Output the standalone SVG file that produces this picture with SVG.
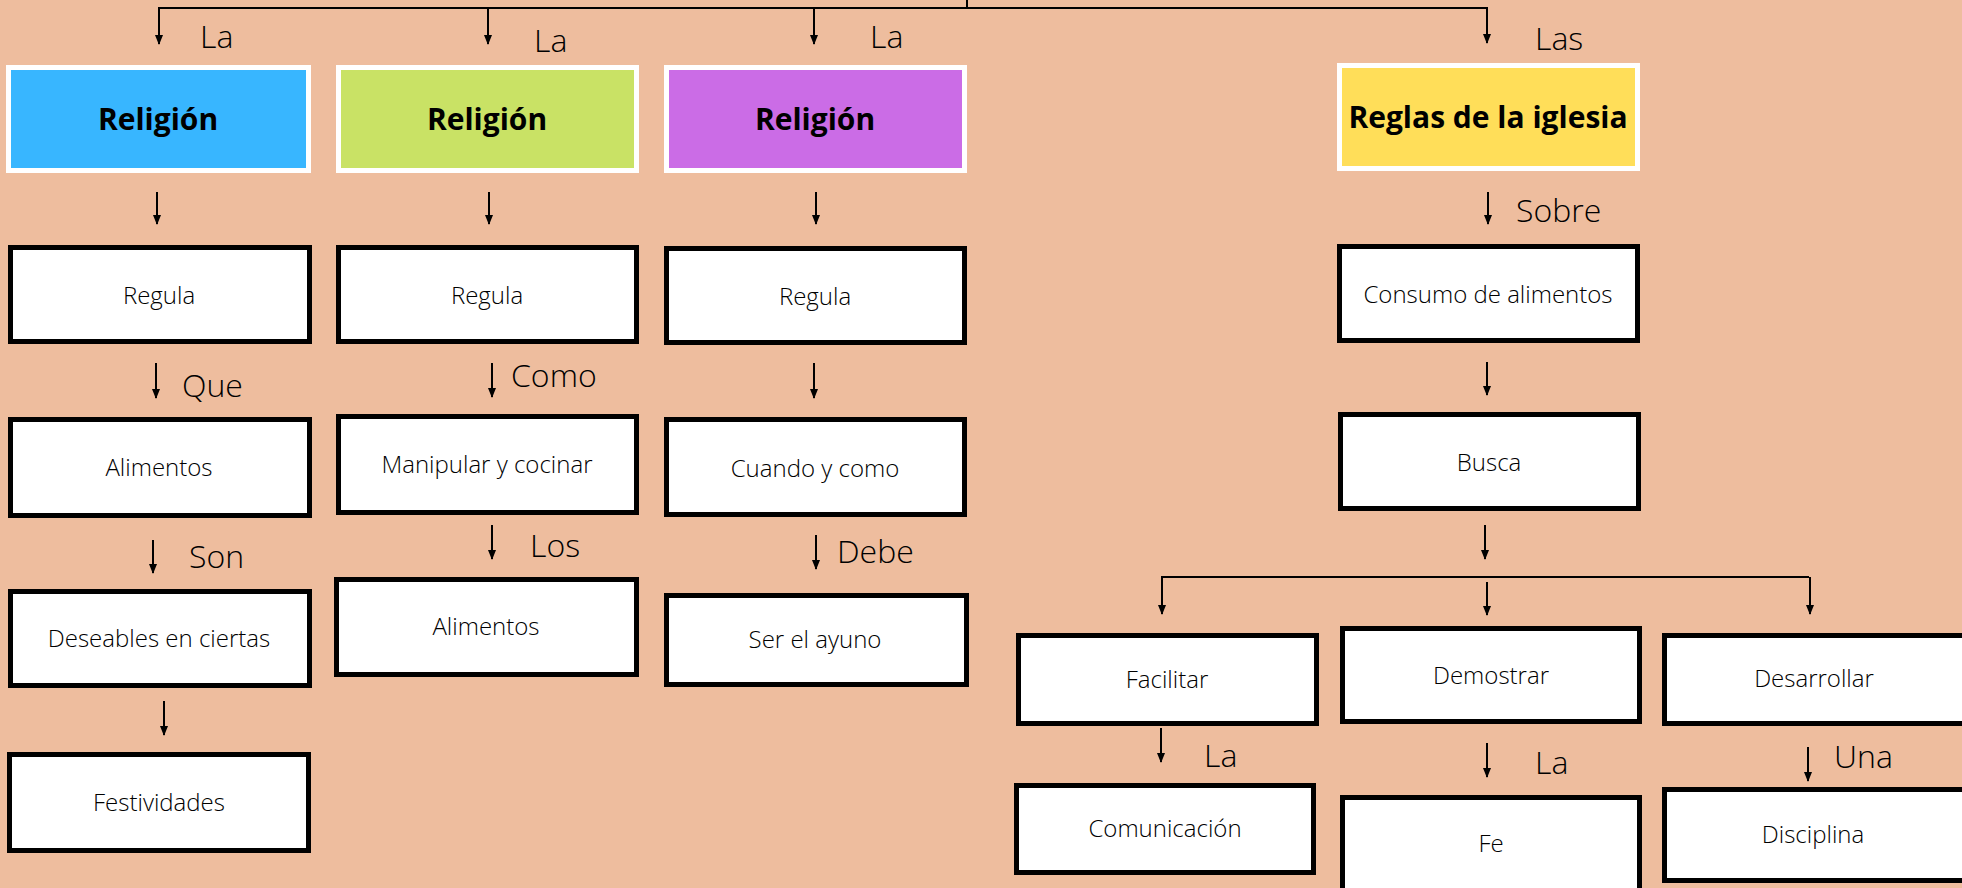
<svg xmlns="http://www.w3.org/2000/svg" width="1962" height="888" viewBox="0 0 1962 888">
<defs>
<marker id="ah" markerUnits="userSpaceOnUse" markerWidth="10" markerHeight="8" viewBox="0 0 10 8" refX="9" refY="4" orient="auto">
<path d="M0,0 L10,4 L0,8 z" fill="#000"/>
</marker>
<style>
.bg{fill:#EEBD9E}
.box{fill:#fff;stroke:#000;stroke-width:5}
.cbox{stroke:#fff;stroke-width:5}
.t{font-family:"Open Sans","Liberation Sans",sans-serif;font-weight:300;font-size:24px;fill:#000;text-anchor:middle}
.h{font-family:"Open Sans","Liberation Sans",sans-serif;font-weight:700;font-size:30px;fill:#000;text-anchor:middle}
.l{font-family:"Open Sans","Liberation Sans",sans-serif;font-weight:300;font-size:32px;fill:#000}
.c{stroke:#000;stroke-width:2;fill:none}
.a{stroke:#000;stroke-width:2;fill:none;marker-end:url(#ah)}
</style>
</defs>
<rect class="bg" x="0" y="0" width="1962" height="888"/>
<g id="connectors">
<path class="c" d="M158,8 H1488"/>
<path class="c" d="M967,0 V8" stroke-width="3"/>
<line class="a" x1="159" y1="8" x2="159" y2="44"/>
<line class="a" x1="488" y1="8" x2="488" y2="44"/>
<line class="a" x1="814" y1="8" x2="814" y2="44"/>
<line class="a" x1="1487" y1="8" x2="1487" y2="43"/>
<line class="a" x1="157" y1="192" x2="157" y2="224"/>
<line class="a" x1="489" y1="192" x2="489" y2="224"/>
<line class="a" x1="816" y1="192" x2="816" y2="224"/>
<line class="a" x1="1488" y1="192" x2="1488" y2="224"/>
<line class="a" x1="156" y1="363" x2="156" y2="398"/>
<line class="a" x1="492" y1="363" x2="492" y2="397"/>
<line class="a" x1="814" y1="363" x2="814" y2="398"/>
<line class="a" x1="1487" y1="362" x2="1487" y2="395"/>
<line class="a" x1="153" y1="540" x2="153" y2="573"/>
<line class="a" x1="492" y1="525" x2="492" y2="559"/>
<line class="a" x1="816" y1="535" x2="816" y2="569"/>
<line class="a" x1="1485" y1="525" x2="1485" y2="559"/>
<line class="a" x1="164" y1="701" x2="164" y2="735"/>
<path class="c" d="M1161,577 H1809"/>
<line class="a" x1="1162" y1="577" x2="1162" y2="614"/>
<line class="a" x1="1487" y1="582" x2="1487" y2="615"/>
<line class="a" x1="1810" y1="577" x2="1810" y2="614"/>
<line class="a" x1="1161" y1="728" x2="1161" y2="762"/>
<line class="a" x1="1487" y1="743" x2="1487" y2="777"/>
<line class="a" x1="1808" y1="747" x2="1808" y2="781"/>
</g>
<g id="labels">
<text class="l" x="200" y="48">La</text>
<text class="l" x="534" y="52">La</text>
<text class="l" x="870" y="48">La</text>
<text class="l" x="1535" y="50">Las</text>
<text class="l" x="182" y="397">Que</text>
<text class="l" x="511" y="387">Como</text>
<text class="l" x="189" y="568">Son</text>
<text class="l" x="530" y="557">Los</text>
<text class="l" x="837" y="563">Debe</text>
<text class="l" x="1516" y="222">Sobre</text>
<text class="l" x="1204" y="767">La</text>
<text class="l" x="1535" y="774">La</text>
<text class="l" x="1834" y="768">Una</text>
</g>
<g id="n-religion1"><rect class="cbox" x="8.5" y="67.5" width="300" height="103" fill="#38B6FF"/><text class="h" x="158" y="130">Religión</text></g>
<g id="n-religion2"><rect class="cbox" x="338.5" y="67.5" width="298" height="103" fill="#C9E265"/><text class="h" x="487" y="130">Religión</text></g>
<g id="n-religion3"><rect class="cbox" x="666.5" y="67.5" width="298" height="103" fill="#CB6CE6"/><text class="h" x="815" y="130">Religión</text></g>
<g id="n-reglas"><rect class="cbox" x="1339.5" y="65.5" width="298" height="103" fill="#FFDE59"/><text class="h" x="1488" y="128">Reglas de la iglesia</text></g>
<g id="n-regula1"><rect class="box" x="10.5" y="247.5" width="299" height="94"/><text class="t" x="159" y="304">Regula</text></g>
<g id="n-regula2"><rect class="box" x="338.5" y="247.5" width="298" height="94"/><text class="t" x="487" y="304">Regula</text></g>
<g id="n-regula3"><rect class="box" x="666.5" y="248.5" width="298" height="94"/><text class="t" x="815" y="305">Regula</text></g>
<g id="n-alimentos1"><rect class="box" x="10.5" y="419.5" width="299" height="96"/><text class="t" x="159" y="476">Alimentos</text></g>
<g id="n-manipular"><rect class="box" x="338.5" y="416.5" width="298" height="96"/><text class="t" x="487" y="473">Manipular y cocinar</text></g>
<g id="n-cuando"><rect class="box" x="666.5" y="419.5" width="298" height="95"/><text class="t" x="815" y="477">Cuando y como</text></g>
<g id="n-deseables"><rect class="box" x="10.5" y="591.5" width="299" height="94"/><text class="t" x="159" y="647">Deseables en ciertas</text></g>
<g id="n-alimentos2"><rect class="box" x="336.5" y="579.5" width="300" height="95"/><text class="t" x="486" y="635">Alimentos</text></g>
<g id="n-ayuno"><rect class="box" x="666.5" y="595.5" width="300" height="89"/><text class="t" x="815" y="648">Ser el ayuno</text></g>
<g id="n-festividades"><rect class="box" x="9.5" y="754.5" width="299" height="96"/><text class="t" x="159" y="811">Festividades</text></g>
<g id="n-consumo"><rect class="box" x="1339.5" y="246.5" width="298" height="94"/><text class="t" x="1488" y="303">Consumo de alimentos</text></g>
<g id="n-busca"><rect class="box" x="1340.5" y="414.5" width="298" height="94"/><text class="t" x="1489" y="471">Busca</text></g>
<g id="n-facilitar"><rect class="box" x="1018.5" y="635.5" width="298" height="88"/><text class="t" x="1167" y="688">Facilitar</text></g>
<g id="n-demostrar"><rect class="box" x="1342.5" y="628.5" width="297" height="93"/><text class="t" x="1491" y="684">Demostrar</text></g>
<g id="n-desarrollar"><rect class="box" x="1664.5" y="635.5" width="320" height="88"/><text class="t" x="1814" y="687">Desarrollar</text></g>
<g id="n-comunicacion"><rect class="box" x="1016.5" y="785.5" width="297" height="87"/><text class="t" x="1165" y="837">Comunicación</text></g>
<g id="n-fe"><rect class="box" x="1342.5" y="797.5" width="297" height="100"/><text class="t" x="1491" y="852">Fe</text></g>
<g id="n-disciplina"><rect class="box" x="1664.5" y="789.5" width="320" height="91"/><text class="t" x="1813" y="843">Disciplina</text></g>
</svg>
